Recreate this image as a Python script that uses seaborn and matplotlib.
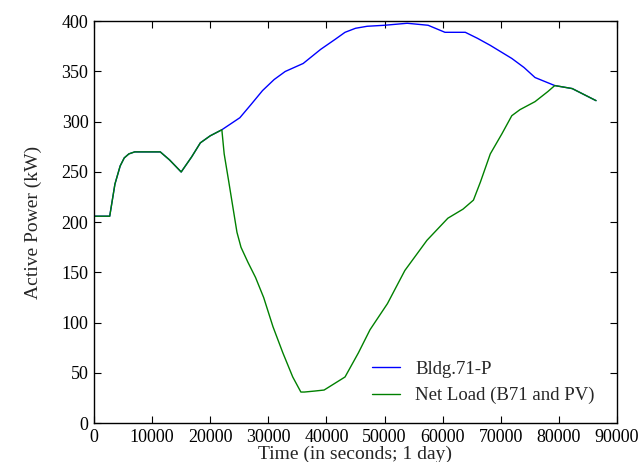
import pandas as pd
import matplotlib
matplotlib.use("Agg")
import matplotlib.pyplot as plt
import seaborn as sns

# Building 71 load (kW) over one day
bldg_t = [0, 2700, 3600, 4500, 5200, 6000, 7000, 11400, 13000, 15000, 16800, 18300, 20000, 22000,
          25100, 27000, 29000, 31000, 32900, 36000, 39000, 41500, 43200, 45000, 47000, 50000,
          53900, 57500, 60400, 63900, 66000, 68200, 71900, 74000, 75900, 79300, 82300, 86400]
bldg_p = [206, 206, 238, 256, 264, 268, 270, 270, 262, 250, 265, 279, 286, 292,
          304, 317, 331, 342, 350, 358, 372, 382, 389, 393, 395, 396,
          398, 396, 389, 389, 383, 376, 363, 354, 344, 336, 333, 321]

# net load = building minus PV
net_t = [0, 2700, 3600, 4500, 5200, 6000, 7000, 11400, 13000, 15000, 16800, 18300, 20000, 22000,
         22400, 23200, 23900, 24600, 25300, 26500, 27800, 29200, 30800, 32500, 34200, 35600,
         36200, 38000, 39600, 43200, 45500, 47500, 50500, 53500, 57300, 60900, 63500, 65300,
         66500, 68200, 70200, 71900, 73300, 75900, 78100, 79300, 82300, 86400]
net_p = [206, 206, 238, 256, 264, 268, 270, 270, 262, 250, 265, 279, 286, 292,
         268, 240, 215, 190, 175, 160, 145, 125, 96, 70, 46, 31,
         31, 32, 33, 46, 70, 93, 119, 152, 182, 204, 213, 222,
         240, 268, 288, 306, 312, 320, 330, 336, 333, 321]

df = pd.concat([
    pd.DataFrame({'time': bldg_t, 'power': bldg_p, 'series': 'Bldg.71-P'}),
    pd.DataFrame({'time': net_t, 'power': net_p, 'series': 'Net Load (B71 and PV)'}),
])

sns.set_style('ticks')
plt.rcParams['font.family'] = ['Liberation Serif', 'DejaVu Serif']
plt.rcParams['font.size'] = 13
plt.rcParams['xtick.direction'] = 'in'
plt.rcParams['ytick.direction'] = 'in'
plt.rcParams['xtick.top'] = True
plt.rcParams['ytick.right'] = True
plt.rcParams['xtick.major.size'] = 5
plt.rcParams['ytick.major.size'] = 5

fig = plt.figure(figsize=(6.44, 4.62), dpi=100)
ax = fig.add_axes([0.146, 0.084, 0.812, 0.870])
sns.lineplot(data=df, x='time', y='power', hue='series',
             palette={'Bldg.71-P': '#0000ff', 'Net Load (B71 and PV)': '#008000'},
             linewidth=1.0, ax=ax, sort=False)
ax.set_xlim(0, 90000)
ax.set_ylim(0, 400)
ax.set_xticks(range(0, 90001, 10000))
ax.set_yticks(range(0, 401, 50))
ax.set_xlabel('Time (in seconds; 1 day)', fontsize=14, labelpad=0)
ax.set_ylabel('Active Power (kW)', fontsize=14, labelpad=14)
for s in ax.spines.values():
    s.set_color('black')
    s.set_linewidth(1.0)
ax.tick_params(colors='black', labelsize=13, pad=4)
ax.legend(loc='lower right', bbox_to_anchor=(0.99, 0.005), frameon=False,
          fontsize=13.5, handlelength=1.5, labelspacing=0.5)

fig.savefig('out.png', dpi=100)
